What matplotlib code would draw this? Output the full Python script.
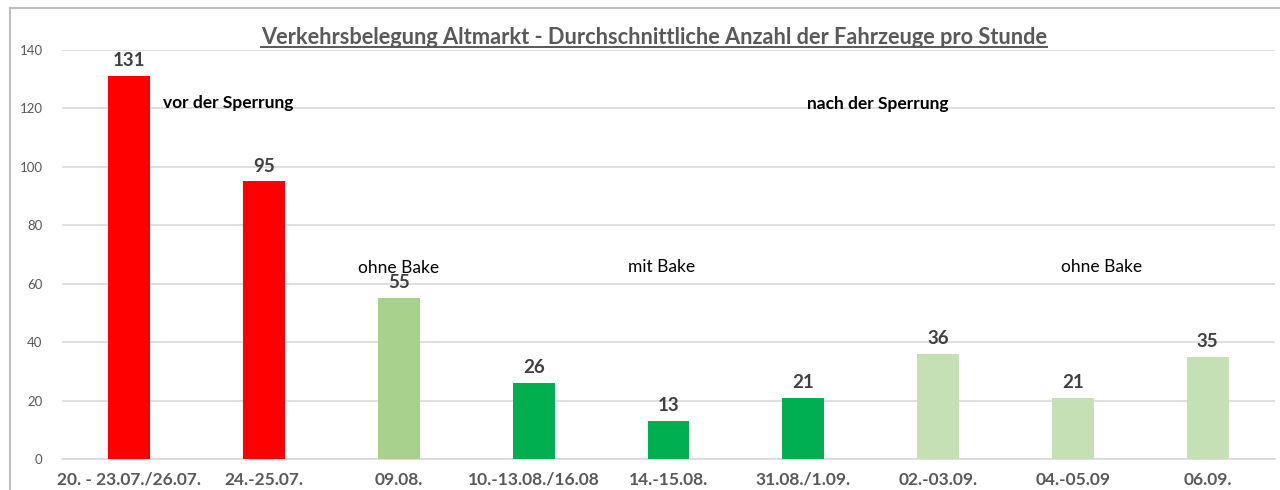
import matplotlib
matplotlib.use('Agg')
import matplotlib.pyplot as plt
from matplotlib.lines import Line2D

plt.rcParams['font.family'] = ['Lato', 'DejaVu Sans']

categories = ['20. - 23.07./26.07.', '24.-25.07.', '09.08.', '10.-13.08./16.08', '14.-15.08.',
              '31.08./1.09.', '02.-03.09.', '04.-05.09', '06.09.']
values = [131, 95, 55, 26, 13, 21, 36, 21, 35]
colors = ['#FF0000', '#FF0000', '#A9D18E', '#00B050', '#00B050', '#00B050', '#C5E0B4', '#C5E0B4', '#C5E0B4']

# notes: (x position in category units, y value, text, bold)
notes = [(0.73, 122, 'vor der Sperrung', True),
         (5.55, 121.5, 'nach der Sperrung', True),
         (2.0, 65.4, 'ohne Bake', False),
         (3.95, 65.7, 'mit Bake', False),
         (7.21, 65.7, 'ohne Bake', False)]

fig = plt.figure(figsize=(12.8, 4.9), dpi=100)
ax = fig.add_axes([62/1280, 1-459/490, (1275-62)/1280, (459-50)/490])

x = list(range(len(categories)))
bars = ax.bar(x, values, width=0.31, color=colors, zorder=3)
for b, v in zip(bars, values):
    ax.annotate(str(v), (b.get_x()+b.get_width()/2, v), xytext=(0, 5), textcoords='offset points',
                ha='center', va='bottom', fontsize=13.5, fontweight='bold', color='#404040', zorder=4)

for nx, ny, t, bold in notes:
    ax.text(nx, ny, t, ha='center', va='center', fontsize=12.5,
            fontweight='bold' if bold else 'normal', color='black', zorder=5)

ax.set_xlim(-0.5, len(categories)-0.5)
ax.set_ylim(0, 140)
ax.set_yticks(range(0, 141, 20))
ax.yaxis.grid(True, color='#D9D9D9', linewidth=1.2, zorder=0)
ax.set_axisbelow(True)
for s in ['top', 'right', 'left']:
    ax.spines[s].set_visible(False)
ax.spines['bottom'].set_color('#D9D9D9')
ax.spines['bottom'].set_linewidth(1.2)
ax.tick_params(axis='both', length=0)
ax.tick_params(axis='y', labelsize=9.5, labelcolor='#595959', pad=14)
ax.set_xticks(x)
ax.set_xticklabels(categories, fontsize=12.5, fontweight='bold', color='#595959')
ax.tick_params(axis='x', pad=9)

title = fig.text(654/1280, 1-38/490, 'Verkehrsbelegung Altmarkt - Durchschnittliche Anzahl der Fahrzeuge pro Stunde',
                 ha='center', va='center', fontsize=15.7, fontweight='bold', color='#595959')

# chart frame (left and top edges visible)
fig.add_artist(Line2D([10/1280, 10/1280], [0, 1-8/490], color='#BFBFBF', linewidth=1.5))
fig.add_artist(Line2D([10/1280, 1], [1-8/490, 1-8/490], color='#BFBFBF', linewidth=1.5))

# underline the title
fig.canvas.draw()
bb = title.get_window_extent().transformed(fig.transFigure.inverted())
fig.add_artist(Line2D([bb.x0, bb.x1], [bb.y0 + 0.004, bb.y0 + 0.004], color='#595959', linewidth=1.4))

fig.savefig('out.png', dpi=100)
